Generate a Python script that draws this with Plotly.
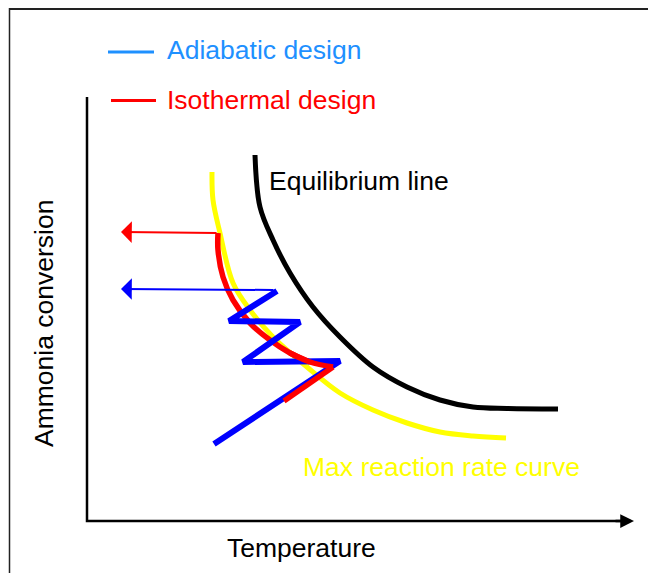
import plotly.graph_objects as go

# ---- data (schematic units: temperature / conversion, origin at axes corner) ----
eq_T = [168, 173, 186, 203, 226, 253, 286, 320, 353, 386, 420, 471]
eq_X = [366, 314, 281, 248, 214, 184, 154, 134, 121, 114, 112.5, 112]

rate_T = [125, 126, 133, 146, 163, 186, 220, 253, 286, 320, 353, 386, 419]
rate_X = [349, 321, 288, 238, 211, 184, 154, 128, 111, 98, 89, 85, 83]

iso_T = [131, 131, 136, 146, 163, 183, 203, 223]
iso_X = [288, 271, 244, 221, 198, 181, 168, 159]
iso_tail_T = [203, 223, 246]
iso_tail_X = [168, 159, 154]
iso_in_T = [246, 197]
iso_in_X = [154, 120]
iso_out_T = [131, 34]
iso_out_X = [288, 289]

adia_T = [127, 253, 156, 213, 142, 190]
adia_X = [77, 160, 159, 199, 200, 230]
adia_out_T = [188, 34]
adia_out_X = [231, 232]

axis_len_T = 547
axis_len_X = 424

fig = go.Figure()

# axes
fig.add_trace(go.Scatter(x=[0, 0, axis_len_T - 4], y=[axis_len_X, 0, 0], mode="lines",
                         line=dict(color="black", width=2.5), hoverinfo="skip"))
fig.add_annotation(x=axis_len_T, y=0, ax=axis_len_T - 20, ay=0, xref="x", yref="y",
                   axref="x", ayref="y", showarrow=True, arrowhead=2, arrowsize=1.1,
                   arrowwidth=2.5, arrowcolor="black", text="")

# curves
fig.add_trace(go.Scatter(x=rate_T, y=rate_X, mode="lines", line=dict(color="#FFFF00", width=5, shape="spline"), hoverinfo="skip"))
fig.add_trace(go.Scatter(x=eq_T, y=eq_X, mode="lines", line=dict(color="black", width=5, shape="spline"), hoverinfo="skip"))
fig.add_trace(go.Scatter(x=iso_T, y=iso_X, mode="lines", line=dict(color="#FF0000", width=5.5, shape="spline"), hoverinfo="skip"))
fig.add_trace(go.Scatter(x=adia_T, y=adia_X, mode="lines", line=dict(color="#0000FF", width=6), hoverinfo="skip"))
fig.add_trace(go.Scatter(x=iso_tail_T, y=iso_tail_X, mode="lines", line=dict(color="#FF0000", width=5.5, shape="spline"), hoverinfo="skip"))
fig.add_trace(go.Scatter(x=iso_in_T, y=iso_in_X, mode="lines", line=dict(color="#FF0000", width=5.5), hoverinfo="skip"))

# outlet arrows
fig.add_annotation(x=iso_out_T[1], y=iso_out_X[1], ax=iso_out_T[0], ay=iso_out_X[0],
                   xref="x", yref="y", axref="x", ayref="y", showarrow=True, arrowhead=1,
                   arrowsize=1.8, arrowwidth=2, arrowcolor="#FF0000", text="")
fig.add_annotation(x=adia_out_T[1], y=adia_out_X[1], ax=adia_out_T[0], ay=adia_out_X[0],
                   xref="x", yref="y", axref="x", ayref="y", showarrow=True, arrowhead=1,
                   arrowsize=1.8, arrowwidth=2, arrowcolor="#0000FF", text="")

FONT = "Liberation Sans, Arial, sans-serif"
FS = 26.5

def label(text, x, y, color, xanchor="left", angle=0):
    fig.add_annotation(x=x, y=y, xref="x", yref="y", text=text, showarrow=False,
                       xanchor=xanchor, yanchor="middle", textangle=angle,
                       font=dict(family=FONT, size=FS, color=color))

# legend
fig.add_shape(type="line", x0=21, x1=67, y0=469, y1=469, xref="x", yref="y", line=dict(color="#1E90FF", width=3))
fig.add_shape(type="line", x0=24, x1=69, y0=420.5, y1=420.5, xref="x", yref="y", line=dict(color="#FF0000", width=3))
label("Adiabatic design", 78, 471, "#1E90FF")
label("Isothermal design", 78, 421, "#FF0000")

label("Equilibrium line", 180, 340, "black")
label("Max reaction rate curve", 214, 54, "#FFFF00")
label("Temperature", 214, -27, "black", xanchor="center")
label("Ammonia conversion", -43, 197, "black", xanchor="center", angle=-90)

# frame
W, H = 648, 565
fig.add_shape(type="line", xref="paper", yref="paper", x0=1/W, x1=1, y0=1-0.9/H, y1=1-0.9/H,
              line=dict(color="#222222", width=2))
fig.add_shape(type="line", xref="paper", yref="paper", x0=1.5/W, x1=1.5/W, y0=0, y1=1,
              line=dict(color="#222222", width=1.5))

fig.update_layout(
    width=W, height=H, margin=dict(l=0, r=0, t=0, b=0),
    paper_bgcolor="white", plot_bgcolor="white", showlegend=False,
    xaxis=dict(range=[-79, 569], visible=False, fixedrange=True),
    yaxis=dict(range=[-52, 513], visible=False, fixedrange=True),
)

fig.write_html("out.html")
